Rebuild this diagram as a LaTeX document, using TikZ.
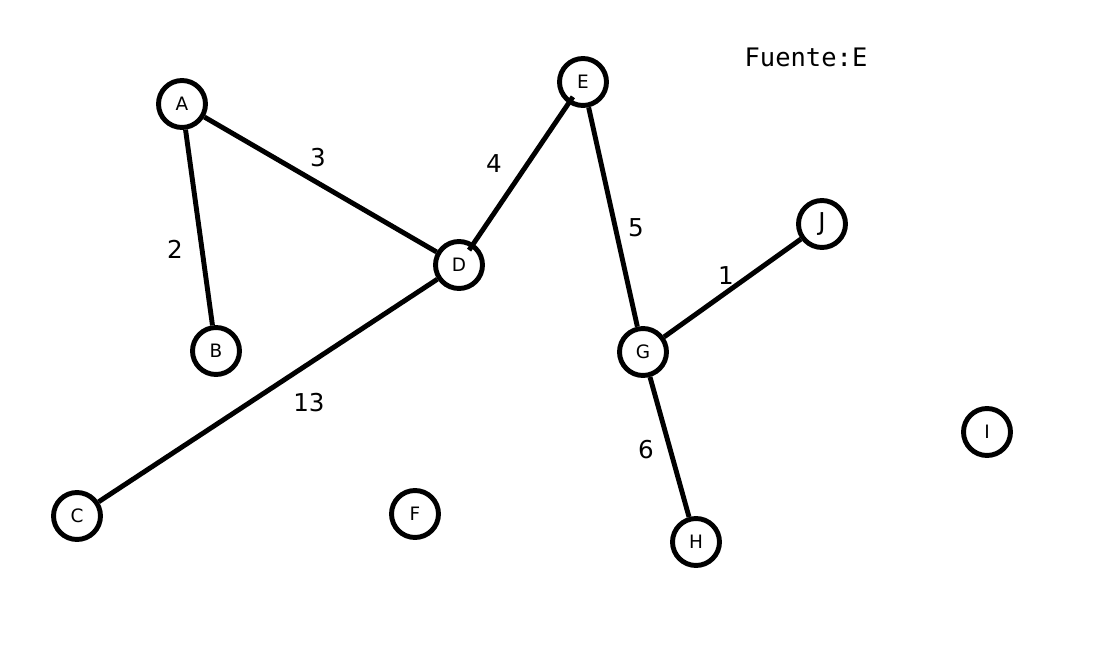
\documentclass[tikz,border=0pt]{standalone}
\usepackage{fontspec}
\setmainfont{DejaVu Sans}
\setmonofont{DejaVu Sans Mono}
\usetikzlibrary{positioning}
\tikzstyle{vertex}=[circle, draw, line width=2.8pt, minimum size=0.94cm, inner sep=0pt, font=\fontsize{10.5}{12}\selectfont]
\tikzstyle{weight}=[inner sep=0pt, font=\fontsize{14}{16}\selectfont]
\tikzstyle{edge}=[line width=2.8pt]

\begin{document}
\begin{tikzpicture}[x=0.02cm, y=-0.02cm]
\useasboundingbox (0,0) rectangle (1100,672);
% Vertices
    \node[vertex] (A) at (182,104) {A};
    \node[vertex] (B) at (216,351) {B};
    \node[vertex] (C) at (77,516) {C};
    \node[vertex] (D) at (459,265) {D};
    \node[vertex] (E) at (583,82) {E};
    \node[vertex] (F) at (415,514) {F};
    \node[vertex] (G) at (643,352) {G};
    \node[vertex] (H) at (696,542) {H};
    \node[vertex] (I) at (987,432) {I};
    \node[vertex, font=\fontsize{14}{16}\selectfont] (J) at (822,224) {J};
% Edges
    \draw[edge] (A) -- (B);
    \draw[edge] (A) -- (D);
    \draw[edge, shorten <=-0.16cm, shorten >=-0.16cm] (D) -- (E);
    \draw[edge] (D) -- (C);
    \draw[edge] (E) -- (G);
    \draw[edge] (G) -- (J);
    \draw[edge] (G) -- (H);
% Weights
    \node[weight] (w2) at (175,249) {2};
    \node[weight] (w3) at (318,158) {3};
    \node[weight] (w4) at (494,164) {4};
    \node[weight] (w5) at (636,228) {5};
    \node[weight] (w1) at (726,276) {1};
    \node[weight] (w13) at (309,403) {13};
    \node[weight] (w6) at (646,450) {6};
% Source
    \node[inner sep=0pt, font=\ttfamily\fontsize{14.5}{16}\selectfont] (src) at (806,57) {Fuente:E};
\end{tikzpicture}
\end{document}
